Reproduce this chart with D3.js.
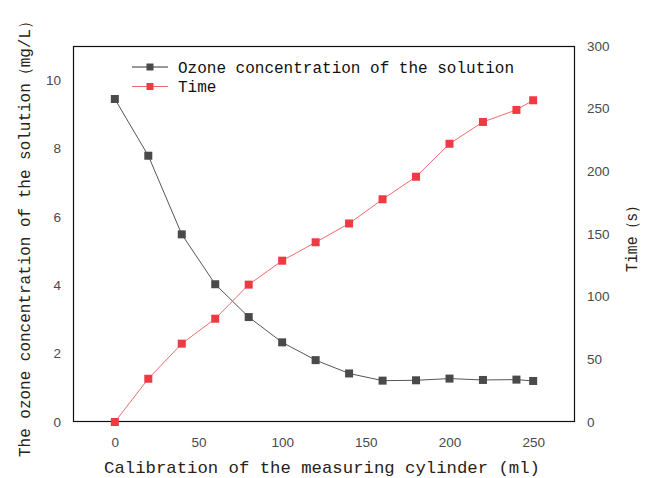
<!DOCTYPE html>
<html>
<head>
<meta charset="utf-8">
<script src="https://cdn.jsdelivr.net/npm/d3@7"></script>
<style>
html,body{margin:0;padding:0;background:#fff;}
svg{display:block;}
</style>
</head>
<body>
<svg id="chart" width="650" height="478"></svg>
<script>
const volumes = [0, 20, 40, 60, 80, 100, 120, 140, 160, 180, 200, 220, 240, 250];
const ozone = [9.45, 7.79, 5.49, 4.03, 3.07, 2.33, 1.81, 1.42, 1.21, 1.22, 1.27, 1.23, 1.24, 1.2];
const time = [0, 34.5, 62.5, 82.4, 109.6, 128.7, 143.4, 158.4, 177.7, 195.7, 222, 239.4, 249, 256.7];
const xTicks = [0, 50, 100, 150, 200, 250];
const yLeftTicks = [0, 2, 4, 6, 8, 10];
const yRightTicks = [0, 50, 100, 150, 200, 250, 300];
const seriesNames = ["Ozone concentration of the solution", "Time"];
const xTitle = "Calibration of the measuring cylinder (ml)";
const yLeftTitle = "The ozone concentration of the solution\uFF08mg/L\uFF09";
const yRightTitle = "Time\uFF08s\uFF09";

const svg = d3.select("#chart");
const L = 73, R = 575, T = 46, B = 422;
const x = d3.scaleLinear().domain([-25, 275]).range([L, R]);
const yL = d3.scaleLinear().domain([0, 11]).range([B, T]);
const yR = d3.scaleLinear().domain([0, 300]).range([B, T]);

const tickFont = "Liberation Sans, Arial, sans-serif";
const monoFont = "Liberation Mono, DejaVu Sans Mono, monospace";
const tickColor = "#4a4a4a";

// frame
svg.append("rect").attr("x", L + 0.5).attr("y", T + 0.5)
  .attr("width", R - L - 1).attr("height", B - T - 1)
  .attr("fill", "none").attr("stroke", "#111").attr("stroke-width", 1.2);

// axes (labels only)
const gx = svg.append("g").attr("transform", `translate(0,${B})`)
  .call(d3.axisBottom(x).tickValues(xTicks).tickSize(0).tickPadding(15));
const gl = svg.append("g").attr("transform", `translate(${L},0)`)
  .call(d3.axisLeft(yL).tickValues(yLeftTicks).tickSize(0).tickPadding(12));
const gr = svg.append("g").attr("transform", `translate(${R},0)`)
  .call(d3.axisRight(yR).tickValues(yRightTicks).tickSize(0).tickPadding(12));
[gx, gl, gr].forEach(g => {
  g.select(".domain").remove();
  g.selectAll("text").attr("font-family", tickFont).attr("font-size", 13.5).attr("fill", tickColor);
});

// lines
const ozLine = d3.line().x((d, i) => x(volumes[i])).y(d => yL(d));
const tLine = d3.line().x((d, i) => x(volumes[i])).y(d => yR(d));
svg.append("path").datum(ozone).attr("d", ozLine).attr("fill", "none")
  .attr("stroke", "#555").attr("stroke-width", 1);
svg.append("path").datum(time).attr("d", tLine).attr("fill", "none")
  .attr("stroke", "#f06a6e").attr("stroke-width", 1);

const ms = 8;
svg.append("g").selectAll("rect").data(ozone).join("rect")
  .attr("x", (d, i) => x(volumes[i]) - ms / 2).attr("y", d => yL(d) - ms / 2)
  .attr("width", ms).attr("height", ms).attr("fill", "#4a4a4a");
svg.append("g").selectAll("rect").data(time).join("rect")
  .attr("x", (d, i) => x(volumes[i]) - ms / 2).attr("y", d => yR(d) - ms / 2)
  .attr("width", ms).attr("height", ms).attr("fill", "#ee3a42");

// legend
const legColors = [{line: "#333", mark: "#4a4a4a"}, {line: "#f06a6e", mark: "#ee3a42"}];
seriesNames.forEach((name, i) => {
  const yy = 67 + i * 19.5;
  svg.append("line").attr("x1", 132).attr("x2", 168).attr("y1", yy).attr("y2", yy)
    .attr("stroke", legColors[i].line).attr("stroke-width", 1);
  svg.append("rect").attr("x", 150 - 3.5).attr("y", yy - 3.5).attr("width", 7).attr("height", 7)
    .attr("fill", legColors[i].mark);
  svg.append("text").attr("x", 178).attr("y", yy).attr("dy", "0.35em")
    .attr("font-family", monoFont).attr("font-size", 16).attr("fill", "#111").text(name);
});

// titles
svg.append("text").attr("x", (104 + 540) / 2).attr("y", 473)
  .attr("text-anchor", "middle").attr("font-family", monoFont).attr("font-size", 17)
  .attr("fill", "#2a2218").attr("textLength", 436).attr("lengthAdjust", "spacingAndGlyphs")
  .text(xTitle);
svg.append("text").attr("transform", "translate(30,235) rotate(-90)")
  .attr("text-anchor", "middle").attr("font-family", monoFont).attr("font-size", 16)
  .attr("fill", "#2a2218").attr("textLength", 444).attr("lengthAdjust", "spacingAndGlyphs")
  .text(yLeftTitle);
svg.append("text").attr("transform", "translate(637,235) rotate(-90)")
  .attr("text-anchor", "middle").attr("font-family", monoFont).attr("font-size", 16)
  .attr("fill", "#2a2218").attr("textLength", 74).attr("lengthAdjust", "spacingAndGlyphs")
  .text(yRightTitle);
</script>
</body>
</html>
